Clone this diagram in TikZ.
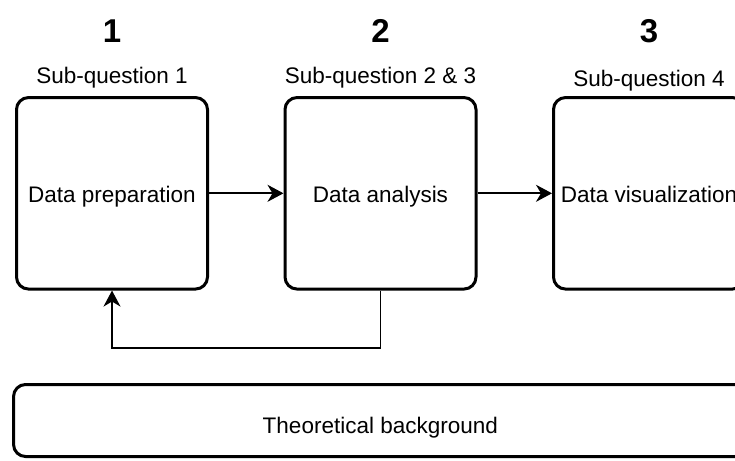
\documentclass[tikz,border=0pt]{standalone}
\usepackage{fontspec}
\setmainfont{Liberation Sans}
\usetikzlibrary{arrows.meta}

\begin{document}
\begin{tikzpicture}[x=1pt, y=-1pt,
    stagebox/.style={draw=black, line width=3pt, rounded corners=12pt,
        minimum width=191pt, minimum height=191.5pt, inner sep=0pt,
        font=\fontsize{22.5}{27}\selectfont, text height=19pt, text depth=0pt},
    stepnum/.style={anchor=base, font=\fontsize{33}{40}\selectfont\bfseries},
    subq/.style={anchor=base, font=\fontsize{22.5}{27}\selectfont},
    flow/.style={line width=1.8pt, -{Stealth[length=16pt, width=17pt, inset=5pt]}}
]
    % page size of the original (735 x 460)
    \useasboundingbox (0,0) rectangle (735,460);
    \clip (0,0) rectangle (735,460);

    % x-centres of the three stages
    \def\xa{112}
    \def\xb{380.5}
    \def\xc{649}

    % Step numbers
    \node[stepnum] (n1) at (\xa,42) {1};
    \node[stepnum] (n2) at (\xb,42) {2};
    \node[stepnum] (n3) at (\xc,42) {3};

    % Sub-question labels
    \node[subq] (q1) at (\xa,83) {Sub-question 1};
    \node[subq] (q2) at (\xb,83) {Sub-question 2 \& 3};
    \node[subq] (q3) at (\xc,86) {Sub-question 4};

    % Stage boxes
    \node[stagebox] (prep) at (\xa,193.3) {Data preparation};
    \node[stagebox] (anal) at (\xb,193.3) {Data analysis};
    \node[stagebox] (visu) at (\xc,193.3) {Data visualization};

    % Theory box along the bottom
    \node[stagebox, minimum width=733.5pt, minimum height=72pt, text height=25pt] (theory)
        at (380.3,420.5) {Theoretical background};

    % Connectors
    \draw[flow] (prep) -- (anal);
    \draw[flow] (anal) -- (visu);
    \draw[flow] (anal.south) -- ++(0,57.5) -| (prep.south);
\end{tikzpicture}
\end{document}
